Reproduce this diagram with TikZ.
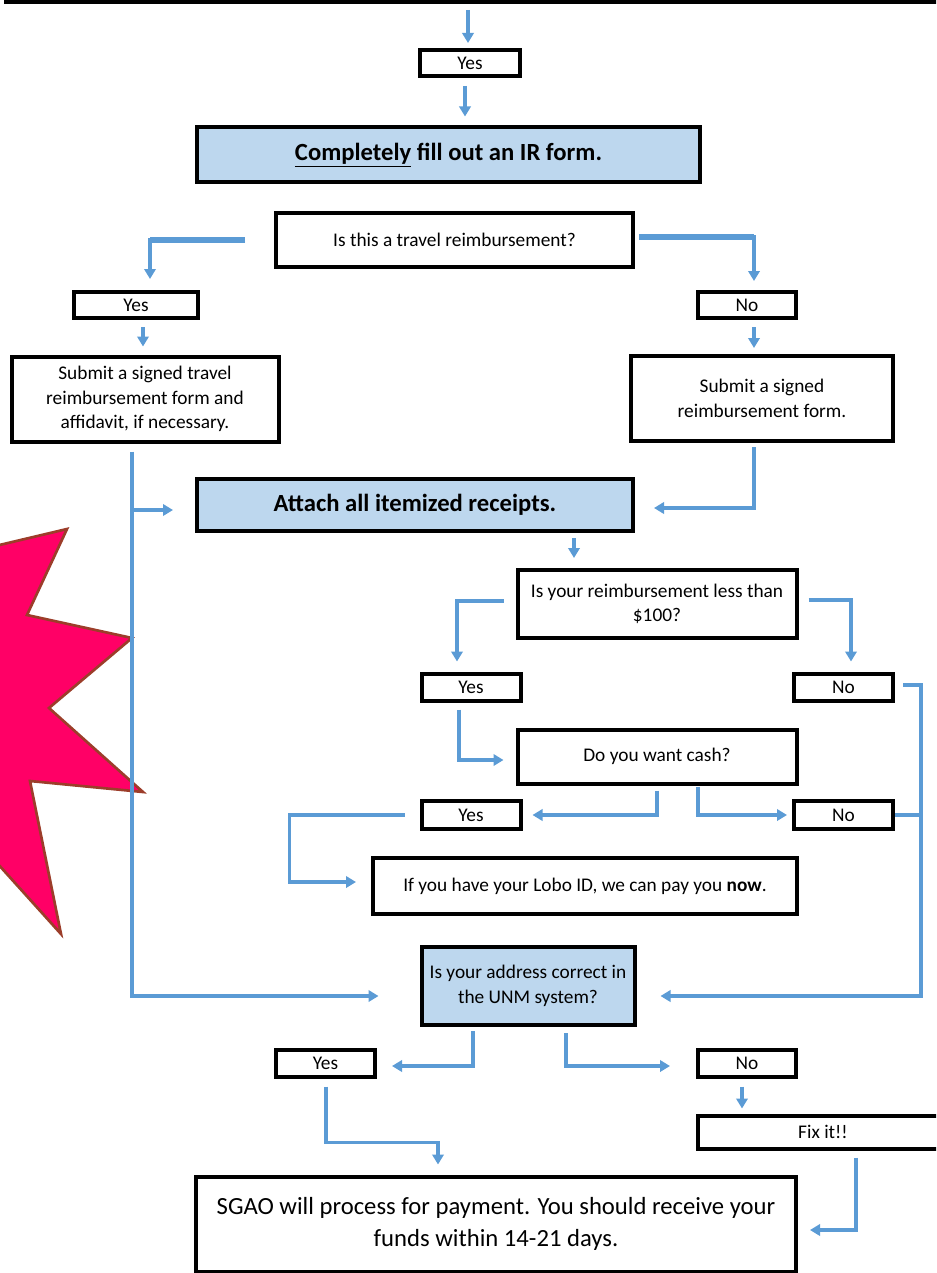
\documentclass[tikz,border=0pt]{standalone}
\usepackage{fontspec}
\setmainfont{Carlito}
\usetikzlibrary{arrows.meta,calc}
\definecolor{lblue}{HTML}{BDD7EE}
\definecolor{cblue}{HTML}{5B9BD5}
\definecolor{starred}{HTML}{FF0066}
\definecolor{starbrown}{HTML}{9C3D2A}
\tikzset{
  box/.style={draw=black, line width=3pt, fill=white, inner sep=0pt, align=center,
    font=\fontsize{14.5}{18.5}\selectfont},
  bbox/.style={box, fill=lblue},
  sz/.style 2 args={minimum width=#1*0.75pt, minimum height=#2*0.75pt},
  conn/.style={draw=cblue, line width=2.6pt, -{Triangle[length=7.5pt,width=8.5pt]}},
  plainconn/.style={draw=cblue, line width=2.6pt},
  thickseg/.style={draw=cblue, line width=4pt},
  bigfont/.style={font=\fontsize{18.5}{24}\selectfont},
  bigbold/.style={font=\fontsize{18.5}{24}\selectfont\bfseries},
}
\begin{document}
\begin{tikzpicture}[x=0.75pt,y=-0.75pt]
\path[use as bounding box] (0,0) rectangle (936,1273);
\clip (0,0) rectangle (936,1273);

% star
\draw[fill=starred, draw=starbrown, line width=2pt, line join=miter]
  (-30,552) -- (67,529) -- (27,615) -- (132,638) -- (49,708) -- (143,792)
  -- (30,781) -- (61,934) -- (-30,833) -- cycle;

% nodes
\node[box, sz={1000}{80}] (top) at (506,-38) {};
\node[box, sz={100}{26}] (yes1) at (470,63) {Yes};
\node[bbox, sz={503}{55}, bigbold] (form) at (448.5,155) {\underline{Completely} fill out an IR form.};
\node[box, sz={357}{54}] (travelq) at (454.5,240) {Is this a travel reimbursement?};
\node[box, sz={124}{26}] (yes2) at (136,305) {Yes};
\node[box, sz={98}{26}] (no2) at (747,305) {No};
\node[box, sz={267}{85}] (travel) at (145,399) {Submit a signed travel\\reimbursement form and\\affidavit, if necessary.};
\node[box, sz={262}{85}] (reimb) at (762,398.5) {Submit a signed\\reimbursement form.};
\node[bbox, sz={436}{52}, bigbold] (attach) at (415,505) {Attach all itemized receipts.};
\node[box, sz={279}{68}] (less) at (657,604) {Is your reimbursement less than\\\$100?};
\node[box, sz={99}{27}] (yes3) at (471,687) {Yes};
\node[box, sz={99}{27}] (no3) at (843.5,687) {No};
\node[box, sz={279}{54}] (cash) at (657,756.5) {Do you want cash?};
\node[box, sz={99}{28}] (yes4) at (471,815) {Yes};
\node[box, sz={99}{28}] (no4) at (843.5,815) {No};
\node[box, sz={424}{56}] (lobo) at (585,886) {If you have your Lobo ID, we can pay you \textbf{now}.};
\node[bbox, sz={213}{78}] (addr) at (528,986) {Is your address correct in\\the UNM system?};
\node[box, sz={99}{27}] (yes5) at (325.5,1063) {Yes};
\node[box, sz={98}{27}] (no5) at (747,1063) {No};
\node[box, sz={250}{33}] (fix) at (823,1132) {Fix it!!};
\node[box, sz={600}{95}, bigfont] (sgao) at (496,1224) {SGAO will process for payment. You should receive your\\funds within 14-21 days.};

% connectors
\draw[conn] ($(top.south -| yes1.north)+(-2,6)$) -- ($(yes1.north)+(-2,-5)$);
\draw[conn] ($(yes1.south)+(-5,8)$) -- ($(yes1.south |- form.north)+(-5,-9)$);
\draw[thickseg] ($(travelq.west)+(-29,0)$) -- ($(yes2.north |- travelq.west)+(14,0)$);
\draw[conn] ($(travelq.west)+(-29,0)$) -| ($(yes2.north)+(14,-11)$);
\draw[thickseg] ($(travelq.east)+(4,-3)$) -- ($(no2.north |- travelq.east)+(7,-3)$);
\draw[conn] ($(travelq.east)+(4,-3)$) -| ($(no2.north)+(7,-9)$);
\draw[conn] ($(yes2.south)+(7,7)$) -- ($(yes2.south |- travel.north)+(7,-8)$);
\draw[conn] ($(no2.south)+(7,7)$) -- ($(no2.south |- reimb.north)+(7,-6)$);
\draw[conn] ($(travel.south)+(-13,8)$) |- ($(addr.west)+(-41,10)$);
\draw[conn] ($(attach.west)+(-65,5)$) -- ($(attach.west)+(-22,5)$);
\draw[conn] ($(reimb.south)+(-8,4)$) |- ($(attach.east)+(19,3)$);
\draw[conn] ($(attach.south)+(159,5)$) -- ($(less.north)+(-83,-10)$);
\draw[conn] ($(less.west)+(-12,-3)$) -| ($(yes3.north)+(-14,-10)$);
\draw[conn] ($(less.east)+(10,-4)$) -| ($(no3.north)+(7.5,-10)$);
\draw[conn] ($(no3.east)+(8,-2)$) -- ($(no3.east)+(26,-2)$) |- ($(addr.east)+(24,10)$);
\draw[plainconn] (no4.east) -- ($(no4.east)+(26,0)$);
\draw[conn] ($(yes3.south)+(-12,7)$) |- ($(cash.west)+(-12,3.5)$);
\draw[conn] ($(cash.south)+(0,5)$) |- ($(yes4.east)+(10,0)$);
\draw[conn] ($(cash.south)+(41,1)$) |- ($(no4.west)+(-5,0)$);
\draw[conn] ($(yes4.west)+(-15,0)$) -- ($(yes4.west)+(-130,0)$) |- ($(lobo.west)+(-15,-4)$);
\draw[conn] ($(addr.south)+(-55,4)$) |- ($(yes5.east)+(15,3)$);
\draw[conn] ($(addr.south)+(38,6)$) |- ($(no5.west)+(-26,3)$);
\draw[conn] ($(yes5.south)+(0.5,8)$) -- ($(yes5.south)+(0.5,64)$) -| ($(sgao.north)+(-58,-10)$);
\draw[conn] ($(no5.south)+(-5,8)$) -- ($(no5.south |- fix.north)+(-5,-5)$);
\draw[conn] ($(fix.south)+(33,7)$) |- ($(sgao.east)+(12,6)$);
\end{tikzpicture}
\end{document}
